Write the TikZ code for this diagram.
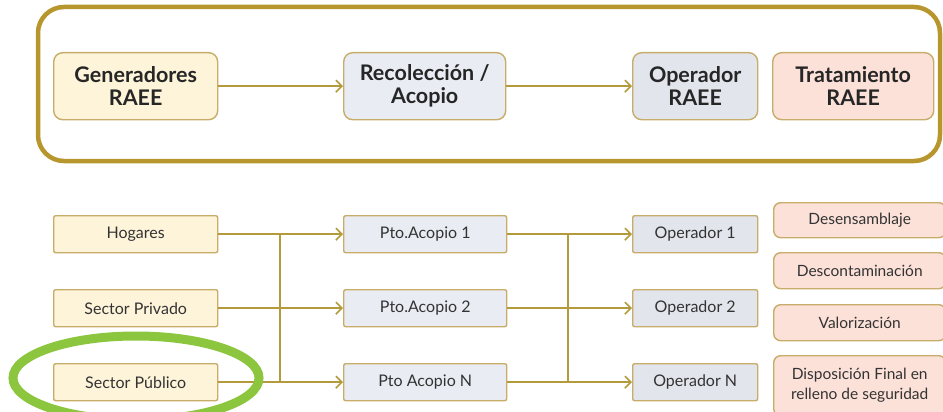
\documentclass[tikz,border=0pt]{standalone}
\usepackage{fontspec}
\setmainfont{Lato}
\usetikzlibrary{arrows.meta}
\definecolor{gold}{HTML}{B8962E}
\definecolor{arr}{HTML}{B39A3C}
\definecolor{bord}{HTML}{C8AC6A}
\definecolor{yel}{HTML}{FEF4DA}
\definecolor{blu}{HTML}{E9EDF3}
\definecolor{gry}{HTML}{E2E5EC}
\definecolor{pnk}{HTML}{FCE1D9}
\definecolor{grn}{HTML}{8CC63F}
\tikzset{
  box/.style={draw=bord, line width=1.4pt, inner sep=0pt, anchor=north west},
  topbox/.style={box, rounded corners=9pt, font=\fontsize{21.5}{23}\selectfont\bfseries, text=black!85, align=center},
  lowbox/.style={box, rounded corners=2pt, font=\fontsize{16}{18}\selectfont, text=black!80, align=center},
  trbox/.style={box, rounded corners=7pt, font=\fontsize{15.5}{20}\selectfont, text=black!80, align=center},
  conn/.style={draw=arr, line width=1.6pt},
  arrow/.style={conn, -{Straight Barb[length=6pt,width=12pt,line width=1.6pt]}},
}
\begin{document}
\begin{tikzpicture}[x=1pt,y=-1pt]
\useasboundingbox (0,0) rectangle (943,412);
% outer frame
\draw[gold, line width=4.5pt, rounded corners=26pt] (38,7) rectangle (940,161);
% top boxes
\node[topbox, fill=yel, minimum width=164pt, minimum height=67pt] (gen) at (53,52) {Generadores\\RAEE};
\node[topbox, fill=blu, minimum width=162pt, minimum height=67pt] (rec) at (343,52) {Recolección /\\Acopio};
\node[topbox, fill=gry, minimum width=125pt, minimum height=67pt] (ope) at (632,52) {Operador\\RAEE};
\node[topbox, fill=pnk, minimum width=161pt, minimum height=67pt] (tra) at (772,52) {Tratamiento\\RAEE};
\draw[arrow] (gen) -- (rec);
\draw[arrow] (rec) -- (ope);
% generators
\node[lowbox, fill=yel, minimum width=164pt, minimum height=37pt] (hog) at (53,215) {Hogares};
\node[lowbox, fill=yel, minimum width=164pt, minimum height=37pt] (pri) at (53,289) {Sector Privado};
\node[lowbox, fill=yel, minimum width=164pt, minimum height=37pt] (pub) at (53,363) {Sector Público};
% collection points
\node[lowbox, fill=blu, minimum width=163pt, minimum height=37pt] (p1) at (343,215) {Pto.Acopio 1};
\node[lowbox, fill=blu, minimum width=163pt, minimum height=37pt] (p2) at (343,289) {Pto.Acopio 2};
\node[lowbox, fill=blu, minimum width=163pt, minimum height=37pt] (pn) at (343,363) {Pto Acopio N};
% operators
\node[lowbox, fill=gry, minimum width=125pt, minimum height=37pt] (o1) at (632,215) {Operador 1};
\node[lowbox, fill=gry, minimum width=125pt, minimum height=37pt] (o2) at (632,289) {Operador 2};
\node[lowbox, fill=gry, minimum width=125pt, minimum height=37pt] (on) at (632,363) {Operador N};
% treatments
\node[trbox, fill=pnk, minimum width=172pt, minimum height=35pt] (t1) at (773,202) {Desensamblaje};
\node[trbox, fill=pnk, minimum width=172pt, minimum height=36pt] (t2) at (773,252) {Descontaminación};
\node[trbox, fill=pnk, minimum width=172pt, minimum height=36pt] (t3) at (773,304) {Valorización};
\node[trbox, fill=pnk, minimum width=172pt, minimum height=60pt] (t4) at (773,355) {Disposición Final en\\relleno de seguridad};
% connectors stage 1
\coordinate (j1t) at (280,233.5);
\coordinate (j1b) at (280,381.5);
\draw[conn] (j1t) -- (j1b);
\draw[arrow] (hog.east) -- (p1.west);
\draw[arrow] (pri.east) -- (p2.west);
\draw[arrow] (pub.east) -- (pn.west);
% connectors stage 2
\coordinate (j2t) at (568,233.5);
\coordinate (j2b) at (568,381.5);
\draw[conn] (j2t) -- (j2b);
\draw[arrow] (p1.east) -- (o1.west);
\draw[arrow] (p2.east) -- (o2.west);
\draw[arrow] (pn.east) -- (on.west);
% highlight ellipse
\draw[grn, line width=9pt] (136,378) ellipse [x radius=123pt, y radius=42pt];
\end{tikzpicture}
\end{document}
